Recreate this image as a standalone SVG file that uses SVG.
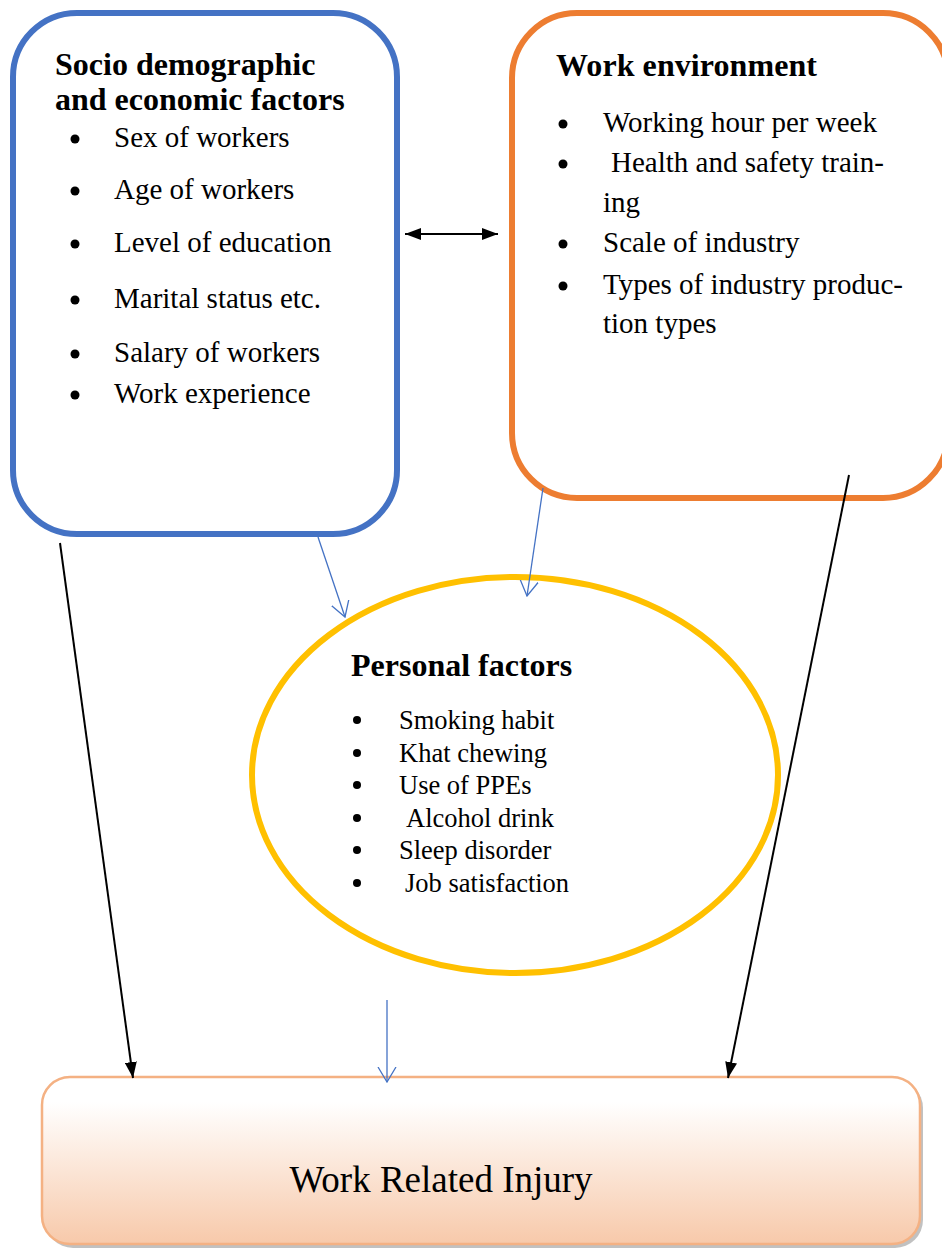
<svg xmlns="http://www.w3.org/2000/svg" width="942" height="1249" viewBox="0 0 942 1249">
  <style>
    .title { font-family: "Liberation Serif", "Times New Roman", serif; font-weight: bold; font-size: 32px; fill: #000; }
    .item { font-family: "Liberation Serif", "Times New Roman", serif; font-size: 29px; fill: #000; }
    .pitem { font-family: "Liberation Serif", "Times New Roman", serif; font-size: 26.5px; fill: #000; }
    .outcome { font-family: "Liberation Serif", "Times New Roman", serif; font-size: 37px; fill: #000; }
    .black { stroke: #000; stroke-width: 2; fill: none; }
    .blue { stroke: #4472C4; stroke-width: 1.3; fill: none; }
  </style>
  <defs>
    <marker id="arrowBlack" viewBox="0 0 16 12" refX="16" refY="6" markerWidth="16" markerHeight="12" markerUnits="userSpaceOnUse" orient="auto-start-reverse">
      <path d="M0,0 L16,6 L0,12 Z" fill="#000"/>
    </marker>
    <marker id="arrowOpen" viewBox="0 0 16 20" refX="15" refY="10" markerWidth="16" markerHeight="20" markerUnits="userSpaceOnUse" orient="auto">
      <path d="M0,1 L15,10 L0,19" fill="none" stroke="#4472C4" stroke-width="1.3"/>
    </marker>
    <linearGradient id="outcomeFill" x1="0" y1="0" x2="0" y2="1">
      <stop offset="0" stop-color="#FFFFFF"/>
      <stop offset="0.15" stop-color="#FFFFFF"/>
      <stop offset="1" stop-color="#F7C9AA"/>
    </linearGradient>
  </defs>

  <rect width="942" height="1249" fill="#fff"/>

  <!-- Socio demographic and economic factors -->
  <g id="socio">
    <rect x="13" y="13" width="384" height="521" rx="64" ry="64" fill="#fff" stroke="#4472C4" stroke-width="6"/>
    <text class="title" x="55" y="75">Socio demographic</text>
    <text class="title" x="55" y="110">and economic factors</text>
    <g fill="#000">
      <circle cx="75" cy="139" r="4.5"/>
      <circle cx="75" cy="191" r="4.5"/>
      <circle cx="75" cy="244" r="4.5"/>
      <circle cx="75" cy="300" r="4.5"/>
      <circle cx="75" cy="354" r="4.5"/>
      <circle cx="75" cy="395" r="4.5"/>
    </g>
    <text class="item" x="114" y="147">Sex of workers</text>
    <text class="item" x="114" y="199">Age of workers</text>
    <text class="item" x="114" y="252">Level of education</text>
    <text class="item" x="114" y="308">Marital status etc.</text>
    <text class="item" x="114" y="362">Salary of workers</text>
    <text class="item" x="114" y="403">Work experience</text>
  </g>

  <!-- Work environment -->
  <g id="work-environment">
    <rect x="512" y="13" width="436" height="485" rx="65" ry="65" fill="#fff" stroke="#ED7D31" stroke-width="6"/>
    <text class="title" x="556" y="76" textLength="261" lengthAdjust="spacing">Work environment</text>
    <g fill="#000">
      <circle cx="563" cy="124" r="4.5"/>
      <circle cx="563" cy="164" r="4.5"/>
      <circle cx="563" cy="244" r="4.5"/>
      <circle cx="563" cy="286" r="4.5"/>
    </g>
    <text class="item" x="603" y="132">Working hour per week</text>
    <text class="item" x="603" y="172"> <tspan x="611">Health and safety train-</tspan></text>
    <text class="item" x="603" y="212">ing</text>
    <text class="item" x="603" y="252">Scale of industry</text>
    <text class="item" x="603" y="294">Types of industry produc-</text>
    <text class="item" x="603" y="333">tion types</text>
  </g>

  <!-- Personal factors -->
  <g id="personal">
    <ellipse cx="515" cy="775" rx="263" ry="198" fill="#fff" stroke="#FFC000" stroke-width="6"/>
    <text class="title" x="351" y="676">Personal factors</text>
    <g fill="#000">
      <circle cx="357" cy="720" r="4"/>
      <circle cx="357" cy="753" r="4"/>
      <circle cx="357" cy="785" r="4"/>
      <circle cx="357" cy="818" r="4"/>
      <circle cx="357" cy="850" r="4"/>
      <circle cx="357" cy="883" r="4"/>
    </g>
    <text class="pitem" x="399" y="729">Smoking habit</text>
    <text class="pitem" x="399" y="762">Khat chewing</text>
    <text class="pitem" x="399" y="794">Use of PPEs</text>
    <text class="pitem" x="406" y="827">Alcohol drink</text>
    <text class="pitem" x="399" y="859">Sleep disorder</text>
    <text class="pitem" x="405" y="892">Job satisfaction</text>
  </g>

  <!-- Outcome -->
  <g id="outcome">
    <rect x="45" y="1080" width="878" height="168" rx="28" ry="28" fill="#A6A6A6" opacity="0.7"/>
    <rect x="42" y="1077" width="878" height="167" rx="28" ry="28" fill="url(#outcomeFill)" stroke="#F4B183" stroke-width="2.5"/>
    <text class="outcome" x="441" y="1192" text-anchor="middle">Work Related Injury</text>
  </g>

  <!-- Connectors -->
  <g id="connectors">
    <line class="black" x1="405" y1="234" x2="498" y2="234" marker-start="url(#arrowBlack)" marker-end="url(#arrowBlack)"/>
    <line class="black" x1="60" y1="543" x2="133" y2="1078" marker-end="url(#arrowBlack)"/>
    <line class="black" x1="849" y1="475" x2="728" y2="1078" marker-end="url(#arrowBlack)"/>
    <line class="blue" x1="318" y1="537" x2="345" y2="617" marker-end="url(#arrowOpen)"/>
    <line class="blue" x1="543" y1="488" x2="527" y2="596" marker-end="url(#arrowOpen)"/>
    <line class="blue" x1="387" y1="1000" x2="387" y2="1082" marker-end="url(#arrowOpen)"/>
  </g>
</svg>
